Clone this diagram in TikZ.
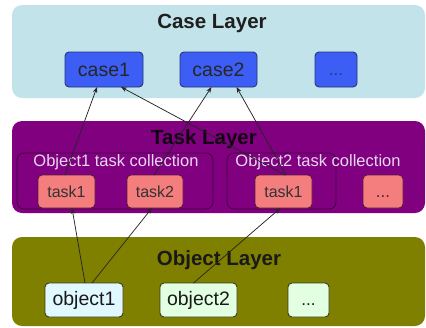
\documentclass[tikz,border=0pt]{standalone}
\usepackage{fontspec}
\setmainfont{Liberation Sans}
\usetikzlibrary{arrows.meta}
\definecolor{caselayer}{HTML}{C2E3E9}
\definecolor{tasklayer}{HTML}{800080}
\definecolor{objlayer}{HTML}{808000}
\definecolor{casefill}{HTML}{3D5EF5}
\definecolor{caseedge}{HTML}{26367A}
\definecolor{taskfill}{HTML}{F47E7E}
\definecolor{taskedge}{HTML}{5A1A3A}
\definecolor{colledge}{HTML}{3E003E}
\definecolor{colltext}{HTML}{E8D8F0}
\definecolor{obj1fill}{HTML}{E0F8FF}
\definecolor{obj2fill}{HTML}{E2FFE2}
\definecolor{objedge}{HTML}{3A3A1A}
\begin{document}
\begin{tikzpicture}[x=1pt,y=-1pt,
  layerbox/.style={rounded corners=10pt, inner sep=0pt, outer sep=0pt},
  title/.style={font=\fontsize{20.5}{24}\selectfont\bfseries, inner sep=0pt},
  nbox/.style={draw, rounded corners=4pt, line width=0.9pt, inner sep=0pt, outer sep=0pt},
  casebox/.style={nbox, fill=casefill, draw=caseedge, minimum height=35pt, text=black!85,
     font=\fontsize{19.5}{22}\selectfont},
  taskbox/.style={nbox, fill=taskfill, draw=taskedge, minimum height=33pt, text=black!80,
     font=\fontsize{16}{19}\selectfont},
  objbox/.style={nbox, draw=objedge, minimum height=34pt, text=black!90,
     font=\fontsize{19.5}{22}\selectfont},
  dotsfont/.style={font=\fontsize{17}{19}\selectfont, text height=13pt, text depth=2pt},
  collbox/.style={draw=colledge, rounded corners=7pt, line width=0.8pt, inner sep=0pt, outer sep=0pt, minimum height=56pt},
  colllabel/.style={text=colltext, inner sep=0pt, font=\fontsize{16.5}{19}\selectfont},
  conn/.style={-{Stealth[length=6pt,width=4.5pt]}, line width=0.75pt, draw=black!85}
]
\useasboundingbox (0,0) rectangle (426,327);
% layers
\node[layerbox, fill=caselayer, minimum width=413pt, minimum height=93pt] (caseL) at (218.5,51.5) {};
\node[layerbox, fill=tasklayer, minimum width=413pt, minimum height=92pt] (taskL) at (218.5,167) {};
\node[layerbox, fill=objlayer, minimum width=413pt, minimum height=89pt] (objL) at (218.5,281.5) {};
% titles
\node[title, text=black!88] (caseT) at (212,23) {Case Layer};
\node[title, text=black!85!tasklayer] (taskT) at (204,139) {Task Layer};
\node[title, text=black!90] (objT) at (219,260) {Object Layer};
% case nodes
\node[casebox, minimum width=78pt] (case1) at (104,69.5) {case1};
\node[casebox, minimum width=77pt] (case2) at (218.5,69.5) {case2};
\node[casebox, minimum width=42pt, text=caseedge, dotsfont] (casedots) at (336,69.5) {...};
% collections
\node[collbox, minimum width=196pt] (coll1) at (115,181) {};
\node[collbox, minimum width=109pt] (coll2) at (281.5,181) {};
\node[colllabel] (coll1T) at (116,162) {Object1 task collection};
\node[colllabel] (coll2T) at (318,162) {Object2 task collection};
% task nodes
\node[taskbox, minimum width=57pt] (task1) at (66.5,191.5) {task1};
\node[taskbox, minimum width=56pt] (task2) at (155,191.5) {task2};
\node[taskbox, minimum width=57pt] (task1b) at (283.5,191.5) {task1};
\node[taskbox, minimum width=40pt, text=taskedge, dotsfont] (taskdots) at (383,191.5) {...};
% object nodes
\node[objbox, fill=obj1fill, minimum width=78pt] (object1) at (84,300) {object1};
\node[objbox, fill=obj2fill, minimum width=77pt] (object2) at (198.5,300) {object2};
\node[objbox, fill=obj2fill, minimum width=41pt, dotsfont] (objdots) at (308.5,300) {...};
% connectors
\draw[conn] ([xshift=-1.5pt]task1.north) -- ([xshift=-7pt]case1.south);
\draw[conn] ([xshift=1.5pt]task1b.north) -- ([xshift=17pt]case1.south);
\draw[conn] ([xshift=-1pt]task2.north) -- ([xshift=-7pt]case2.south);
\draw[conn] ([xshift=2.5pt]task1b.north) -- ([xshift=18pt]case2.south);
\draw[conn] ([xshift=1pt]object1.north) -- ([xshift=5.5pt]task1.south);
\draw[conn] ([xshift=8pt]object1.north) -- ([xshift=-3pt]task2.south);
\draw[conn] ([xshift=-5pt]object2.north) -- ([xshift=-3pt]task1b.south);
\end{tikzpicture}
\end{document}
